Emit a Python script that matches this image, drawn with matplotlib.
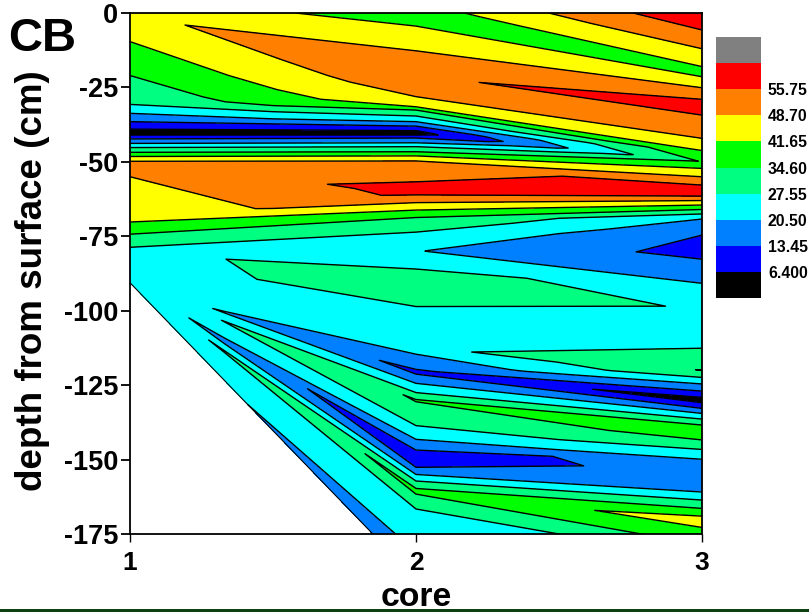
import numpy as np
import matplotlib
matplotlib.use("Agg")
import matplotlib.pyplot as plt
import matplotlib.tri as mtri
from matplotlib.patches import Rectangle

plt.rcParams['font.family'] = ['Liberation Sans', 'DejaVu Sans']
plt.rcParams['font.weight'] = 'bold'

core1_depth = [0, -9.6, -21, -30.7, -33.7, -36.5, -39, -40, -41, -42.3, -43.8, -45.2, -46.8, -48.2, -49.8,
               -52, -55, -70.2, -74.3, -78.7, -80, -90.6]
core1_value = [47.2, 41.65, 34.6, 27.55, 20.5, 13.45, 6.4, 3, 6.4, 13.45, 20.5, 27.55, 34.6, 41.65, 48.7,
               51.4, 48.7, 41.65, 34.6, 27.55, 25.3, 24]
# depth on core 2 that each core 1 sample is joined to
core1_tie = [0, -21.1, -21.2, -21.3, -33.7, -36.5, -39, -40, -41, -42.3, -43.8, -45.2, -46.8, -48.2, -49.8,
             -50, -60.05, -60.1, -72, -78.7, -80.5, -88.5]

core2_depth = [0, -4.4, -12.7, -21, -28.1, -31.5, -32.6, -34.6, -36.5, -38, -39.5, -40.2, -41, -42, -43.6,
               -44.9, -46.6, -48, -49.7, -56.7, -60, -61.1, -63.7, -66.2, -68.7, -73.6, -80, -86, -88, -98.6,
               -112.4, -114.6, -119.7, -120.5, -121.3, -124.4, -127.5, -130, -138.6, -143.2, -146.8, -148,
               -152.6, -155, -157.2, -159.7, -160.5, -161.6, -166.6, -181, -190]
core2_value = [37.6, 41.65, 48.7, 55, 48.7, 41.65, 34.6, 27.55, 20.5, 13.45, 6.4, 4, 6.4, 13.45, 20.5,
               27.55, 34.6, 41.65, 48.7, 55.75, 57.7, 55.75, 48.7, 41.65, 34.6, 27.55, 20.8, 27.55, 32, 27.55,
               25.8, 20.5, 13.45, 11.9, 13.45, 20.5, 27.55, 35.1, 27.55, 20.5, 13.45, 7,
               13.45, 20.5, 27.55, 34.6, 36.9, 34.6, 27.55, 20.5, 15.5]

core3_depth = [0, -5.7, -12, -18, -19.5, -21.4, -25.1, -29, -31.5, -34.3, -42.1, -46.2, -49.9, -52.2, -55,
               -57.8, -59.7, -61.5, -63, -64.5, -66, -67.5, -69.2, -74.6, -80.3, -82.7, -90.8, -100, -112.6,
               -120, -122.4, -124.6, -127, -129.1, -130, -130.9, -132.8, -134.5, -136.4, -138.4, -141, -143.4,
               -146.6, -149.9, -155, -160.9, -163.6, -166.4, -169, -171, -172.8, -178.6, -183.4, -190]
core3_value = [61.5, 55.75, 48.7, 41.65, 38, 41.65, 48.7, 55.75, 58.4, 55.75, 48.7, 41.65, 35, 41.65, 48.7,
               55.75, 62.5, 55.75, 48.7, 41.65, 34.6, 27.55, 20.5, 13.45, 11.25, 13.45, 20.5, 26.9, 27.55,
               34.8, 27.55, 20.5, 13.45, 6.4, 3, 6.4, 13.45, 20.5, 27.55, 34.6, 38, 34.6,
               27.55, 20.5, 18, 20.5, 27.55, 34.6, 41.65, 44.5, 41.65, 34.6, 27.55, 23]
# depth on core 2 that each core 3 sample is joined to
core3_tie = [0, -0.01, -0.02, -0.03, -0.04, -4.45, -12.75, -20.5, -21.1, -21.2, -28.15, -31.55, -40.25, -48.05, -49.71,
             -49.72, -49.73, -60.05, -63.75, -66.25, -68.75, -68.8, -68.85, -68.9, -80.05, -80.1, -80.2, -88.05, -112.45,
             -112.5, -120.6, -120.7, -120.8, -120.9, -120.95, -121.1, -121.35, -124.45, -127.55, -129.9, -130.05, -138.65,
             -143.25, -146.85, -148.05, -155.05, -157.25, -159.75, -160.4, -160.55, -160.6, -161.65, -166.65, -181.05]

levels = [0, 6.4, 13.45, 20.5, 27.55, 34.6, 41.65, 48.7, 55.75, 62.8, 70]
colors = ['#000000', '#0000ff', '#0080ff', '#00ffff', '#00ff80', '#00ff00', '#ffff00', '#ff8000', '#ff0000', '#808080']
level_labels = ['6.400', '13.45', '20.50', '27.55', '34.60', '41.65', '48.70', '55.75']
y_ticks = [0, -25, -50, -75, -100, -125, -150, -175]
y_labels = ['0', '-25', '-50', '-75', '-100', '-125', '-150', '-175']


def strip(left_start, left_tie, right_start, right_tie):
    # walks down two neighbouring cores and joins them into triangles
    i, j = 0, 0
    out = []
    while i < len(left_tie) - 1 or j < len(right_tie) - 1:
        if j == len(right_tie) - 1 or (i < len(left_tie) - 1 and left_tie[i + 1] >= right_tie[j + 1]):
            out.append([left_start + i, left_start + i + 1, right_start + j])
            i += 1
        else:
            out.append([left_start + i, right_start + j, right_start + j + 1])
            j += 1
    return out


n1, n2 = len(core1_depth), len(core2_depth)
x = np.array([1] * n1 + [2] * n2 + [3] * len(core3_depth), dtype=float)
y = np.array(core1_depth + core2_depth + core3_depth, dtype=float)
z = np.array(core1_value + core2_value + core3_value, dtype=float)
triangles = strip(0, core1_tie, n1, core2_depth) + strip(n1, core2_depth, n1 + n2, core3_tie)
tri = mtri.Triangulation(x, y, triangles)

W, H = 809, 612
fig = plt.figure(figsize=(W / 100, H / 100), dpi=100)
ax = fig.add_axes([130 / W, 1 - 534 / H, 572 / W, 521 / H])

cf = ax.tricontourf(tri, z, levels=levels, colors=colors)
ax.tricontour(tri, z, levels=levels[1:-1], colors='black', linewidths=1)
# outline of the sampled area, lower left
ax.plot([1, 2], [core1_depth[-1], core2_depth[-1]], color='black', lw=0.8)

ax.set_xlim(1, 3)
ax.set_ylim(-175, 0)
ax.set_xticks([1, 2, 3])
ax.set_yticks(y_ticks)
ax.set_yticklabels(y_labels)
ax.tick_params(axis='x', labelsize=19, length=6, width=1, pad=6)
ax.tick_params(axis='y', labelsize=19.5, length=6.5, width=1.3, pad=2)
for s in ax.spines.values():
    s.set_linewidth(1.3)
ax.set_xlabel('core', fontsize=24.3, fontweight='bold', va='center')
ax.xaxis.set_label_coords(0.5, -(597 - 534) / 521)
ax.set_ylabel('depth from surface (cm)', fontsize=26.5, fontweight='bold', va='center')
ax.yaxis.set_label_coords((33 - 130) / 572, 1 - (281 - 13) / 521)

fig.text(8 / W, 1 - 39 / H, 'CB', fontsize=34, fontweight='bold', va='center', ha='left')

cax = fig.add_axes([716 / W, 1 - 298 / H, 45 / W, 261 / H])
cb = fig.colorbar(cf, cax=cax, ticks=levels[1:-2])
cb.ax.set_yticklabels(level_labels)
cb.ax.tick_params(length=0, labelsize=11.3, pad=5)
cb.outline.set_visible(False)

# dark strip along the bottom of the slide
fig.add_artist(Rectangle((0, 0), 1, 3.5 / H, transform=fig.transFigure, color='#0f4010', lw=0))

fig.savefig('out.png', dpi=100)
